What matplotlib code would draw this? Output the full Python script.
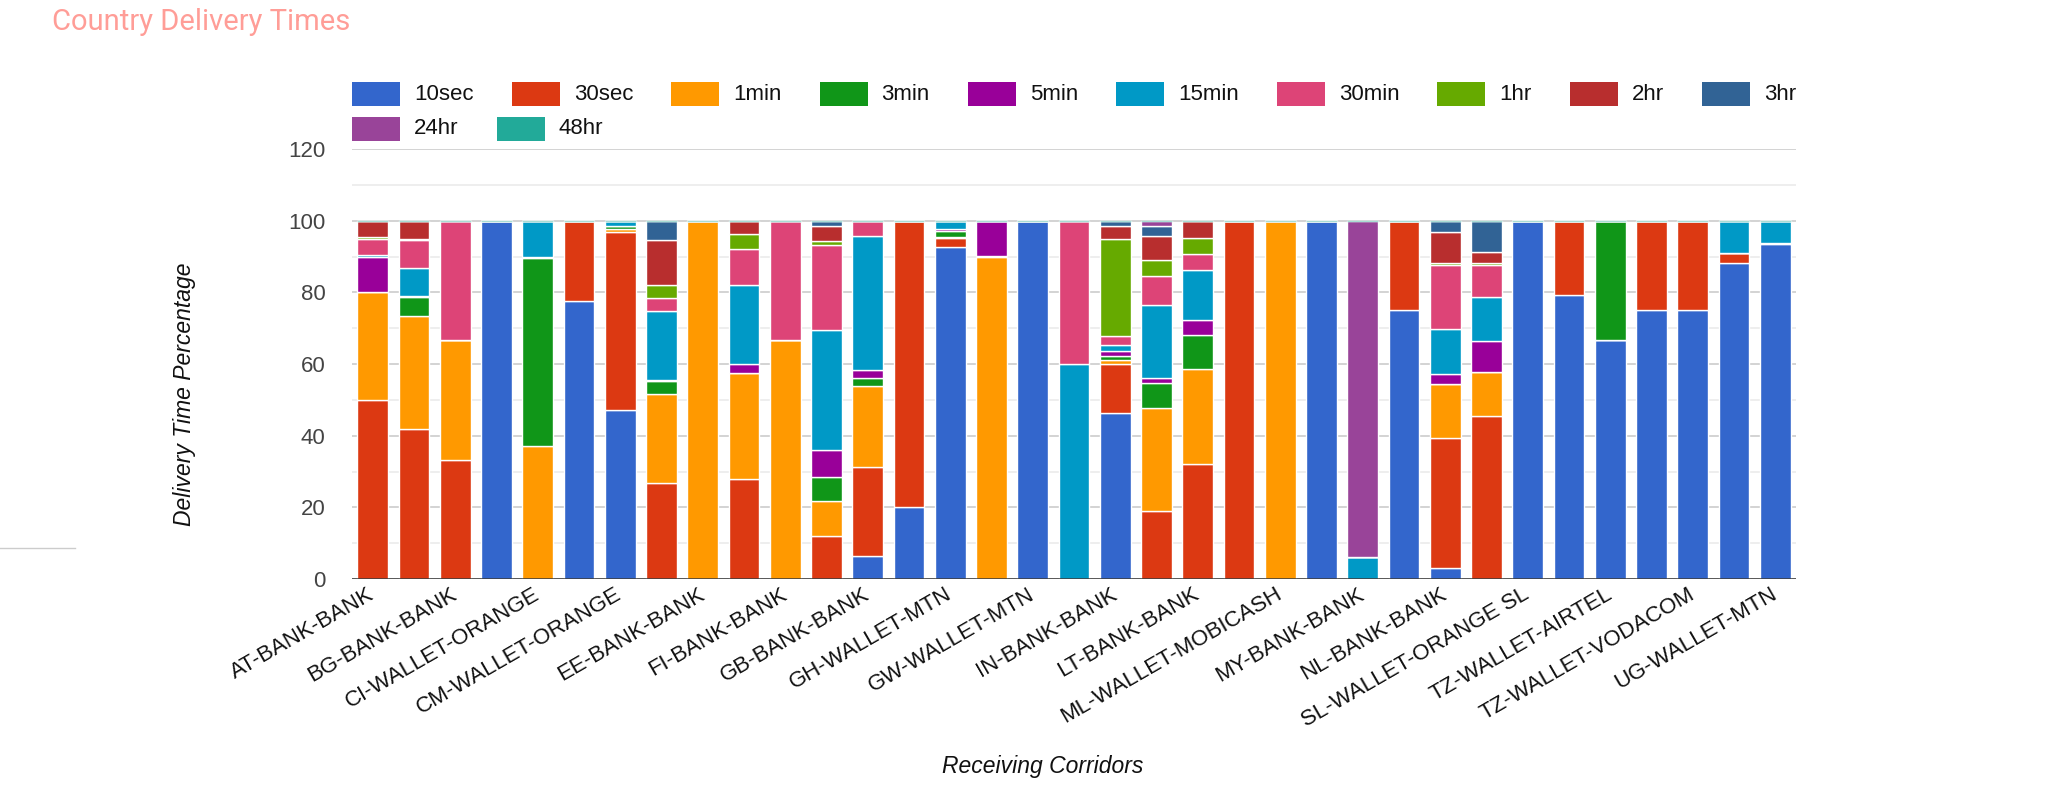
import numpy as np
import matplotlib
matplotlib.use("Agg")
import matplotlib.pyplot as plt
from matplotlib.patches import Rectangle
from matplotlib.lines import Line2D

# corredores (solo los pares llevan etiqueta visible)
corridors = [
    "AT-BANK-BANK", "BE-BANK-BANK", "BG-BANK-BANK", "BJ-WALLET-MTN",
    "CI-WALLET-ORANGE", "CM-WALLET-MTN", "CM-WALLET-ORANGE", "DE-BANK-BANK",
    "EE-BANK-BANK", "ES-BANK-BANK", "FI-BANK-BANK", "FR-BANK-BANK",
    "GB-BANK-BANK", "GH-WALLET-AIRTELTIGO", "GH-WALLET-MTN", "GH-WALLET-VODAFONE",
    "GW-WALLET-MTN", "IE-BANK-BANK", "IN-BANK-BANK", "IT-BANK-BANK",
    "LT-BANK-BANK", "LV-BANK-BANK", "ML-WALLET-MOBICASH", "ML-WALLET-ORANGE",
    "MY-BANK-BANK", "NG-BANK-BANK", "NL-BANK-BANK", "PT-BANK-BANK",
    "SL-WALLET-ORANGE SL", "SN-WALLET-ORANGE", "TZ-WALLET-AIRTEL", "TZ-WALLET-TIGO",
    "TZ-WALLET-VODACOM", "UG-WALLET-AIRTEL", "UG-WALLET-MTN",
]

series_names = ["10sec", "30sec", "1min", "3min", "5min", "15min",
                "30min", "1hr", "2hr", "3hr", "24hr", "48hr"]

s10sec = [0, 0, 0, 100, 0, 77.6, 47.3, 0, 0, 0, 0, 0, 6.3, 20, 92.7, 0, 100, 0,
          46.3, 0, 0, 0, 0, 100, 0, 75, 3, 0, 100, 79.2, 66.7, 75, 75, 88.3, 93.5]
s30sec = [50, 42, 33.3, 0, 0, 22.4, 49.4, 26.8, 0, 27.9, 0, 11.9, 24.9, 80, 2.5, 0, 0, 0,
          13.8, 19, 32.1, 100, 0, 0, 0, 25, 36.4, 45.6, 0, 20.8, 0, 25, 25, 2.6, 0.3]
s1min = [30, 31.5, 33.3, 0, 37, 0, 0.9, 24.8, 100, 29.6, 66.7, 9.8, 22.8, 0, 0.2, 90, 0, 0,
         0.9, 28.7, 26.6, 0, 100, 0, 0, 0, 15, 12.1, 0, 0, 0, 0, 0, 0, 0]
s3min = [0, 5.2, 0, 0, 52.6, 0, 1.0, 3.6, 0, 0, 0, 6.8, 2.1, 0, 1.6, 0.2, 0, 0,
         1.1, 7, 9.3, 0, 0, 0, 0, 0, 0, 0, 0, 0, 33.3, 0, 0, 0, 0]
s5min = [10, 0.4, 0, 0, 0.3, 0, 0, 0.4, 0, 2.6, 0, 7.6, 2.3, 0, 0.8, 9.8, 0, 0,
         1.5, 1.4, 4.4, 0, 0, 0, 0, 0, 2.9, 8.7, 0, 0, 0, 0, 0, 0, 0]
s15min = [0.5, 7.8, 0, 0, 10.1, 0, 1.4, 19.3, 0, 21.9, 0, 33.5, 37.4, 0, 2.2, 0, 0, 60,
          1.8, 20.5, 13.9, 0, 0, 0, 6.2, 0, 12.4, 12.4, 0, 0, 0, 0, 0, 9.1, 6.2]
s30min = [4.5, 7.6, 33.4, 0, 0, 0, 0, 3.5, 0, 10.2, 33.3, 23.5, 4.2, 0, 0, 0, 0, 40,
          2.3, 8, 4.4, 0, 0, 0, 0, 0, 17.9, 8.8, 0, 0, 0, 0, 0, 0, 0]
s1hr = [0.5, 0.5, 0, 0, 0, 0, 0, 3.6, 0, 4.1, 0, 1.3, 0, 0, 0, 0, 0, 0,
        27.2, 4.5, 4.5, 0, 0, 0, 0, 0, 0.7, 0.7, 0, 0, 0, 0, 0, 0, 0]
s2hr = [4.5, 5.0, 0, 0, 0, 0, 0, 12.5, 0, 3.7, 0, 4.2, 0, 0, 0, 0, 0, 0,
        3.5, 6.7, 4.8, 0, 0, 0, 0, 0, 8.4, 2.9, 0, 0, 0, 0, 0, 0, 0]
s3hr = [0, 0, 0, 0, 0, 0, 0, 5.5, 0, 0, 0, 1.4, 0, 0, 0, 0, 0, 0,
        1.6, 2.6, 0, 0, 0, 0, 0, 0, 3.3, 8.8, 0, 0, 0, 0, 0, 0, 0]
s24hr = [0, 0, 0, 0, 0, 0, 0, 0, 0, 0, 0, 0, 0, 0, 0, 0, 0, 0,
         0, 1.6, 0, 0, 0, 0, 93.8, 0, 0, 0, 0, 0, 0, 0, 0, 0, 0]
s48hr = [0] * len(corridors)

series = [s10sec, s30sec, s1min, s3min, s5min, s15min,
          s30min, s1hr, s2hr, s3hr, s24hr, s48hr]

colors = ["#3366cc", "#dc3912", "#ff9900", "#109618", "#990099", "#0099c6",
          "#dd4477", "#66aa00", "#b82e2e", "#316395", "#994499", "#22aa99"]

yticks = [0, 20, 40, 60, 80, 100, 120]

plt.rcParams['font.family'] = ['Liberation Sans', 'DejaVu Sans']

W, H = 2048, 793
fig = plt.figure(figsize=(W / 100, H / 100), dpi=100)
fig.patch.set_facecolor('white')

# area del grafico (en pixeles del original)
left, right, top, bottom = 352, 1796, 149, 579
ax = fig.add_axes([left / W, 1 - bottom / H, (right - left) / W, (bottom - top) / H])

x = np.arange(len(corridors))
cum = np.zeros(len(corridors))
for name, vals, col in zip(series_names, series, colors):
    v = np.array(vals, dtype=float)
    # la serie 48hr (vacia) deja una linea fina arriba, como en Google Charts
    edge = '#a8dcd4' if name == "48hr" else 'white'
    ax.bar(x, v, bottom=cum, width=0.745, color=col, edgecolor=edge,
           linewidth=1.0, label=name, zorder=3)
    cum += v

ax.set_xlim(-0.5, len(corridors) - 0.5)
ax.set_ylim(0, 120)
ax.set_yticks(yticks)
ax.set_yticks(np.arange(10, 120, 20), minor=True)
ax.grid(axis='y', which='major', color='#cccccc', linewidth=1.2, zorder=0)
ax.grid(axis='y', which='minor', color='#ebebeb', linewidth=1.2, zorder=0)
ax.axhline(0, color='#333333', linewidth=1.8, zorder=4)
for sp in ax.spines.values():
    sp.set_visible(False)

ax.tick_params(axis='y', which='both', length=0, pad=19, labelsize=16, labelcolor='#444444')
ax.tick_params(axis='x', length=0, pad=10)
ax.set_xticks(x)
ax.set_xticklabels([c if i % 2 == 0 else "" for i, c in enumerate(corridors)],
                   rotation=30, ha='right', va='center', rotation_mode='anchor',
                   fontsize=16, color='#111111')

ax.set_ylabel("Delivery Time Percentage", fontsize=16.5, style='italic', color='#111111')
ax.yaxis.set_label_coords((196 - left) / (right - left), 0.43)
fig.text(1043 / W, 1 - 767 / H, "Receiving Corridors", fontsize=16.5,
         style='italic', color='#111111', ha='center', va='center')

# titulo
fig.text(52 / W, 1 - 22 / H, "Country Delivery Times", fontsize=21, color='#ff9d97',
         family='Roboto', ha='left', va='center')

# linea gris de la izquierda
fig.add_artist(Line2D([0, 75 / W], [1 - 548 / H, 1 - 548 / H], color='#cccccc', linewidth=1))

# leyenda manual estilo Google Charts
renderer = fig.canvas.get_renderer()
sw, sh, gap, item_gap = 48, 24, 14, 38
rows_y = [94, 129]
px, row = left, 0
for i, (name, col) in enumerate(zip(series_names, colors)):
    if i == 10:
        px, row = left, 1
    yc = rows_y[row]
    fig.add_artist(Rectangle((px / W, 1 - (yc + sh / 2) / H), sw / W, sh / H,
                             transform=fig.transFigure, facecolor=col, edgecolor='none'))
    t = fig.text((px + sw + gap) / W, 1 - yc / H, name, fontsize=16, color='#111111',
                 ha='left', va='center')
    tw = t.get_window_extent(renderer).width
    px += sw + gap + tw + item_gap

fig.savefig("out.png", dpi=100, facecolor='white')
